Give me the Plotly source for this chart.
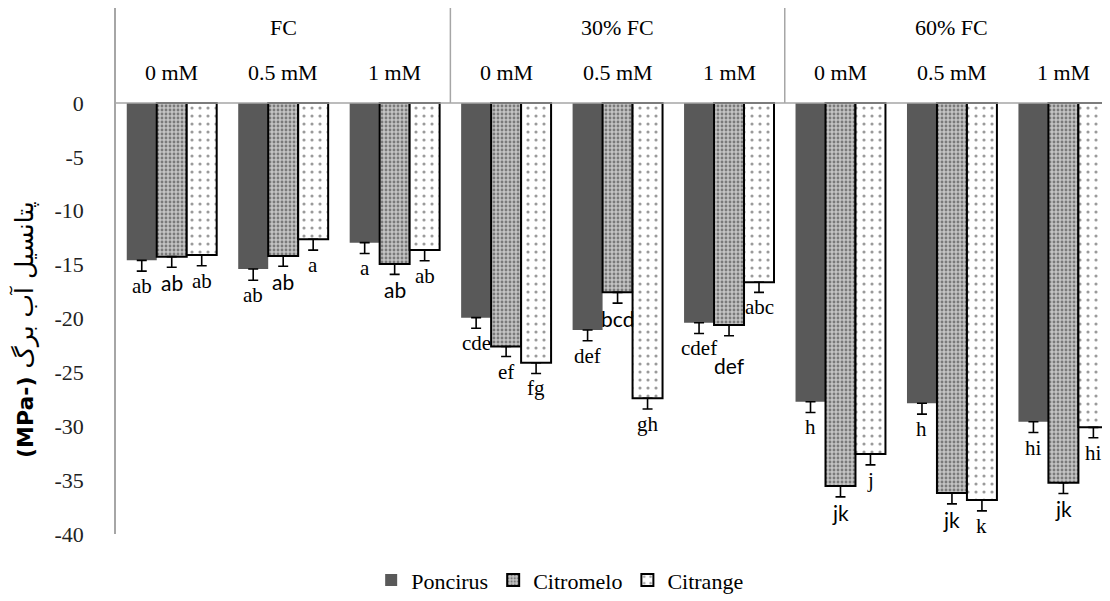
import plotly.graph_objects as go

# ---------------- data ----------------
categories = ["0 mM", "0.5 mM", "1 mM", "0 mM", "0.5 mM", "1 mM", "0 mM", "0.5 mM", "1 mM"]
groups = ["FC", "30% FC", "60% FC"]

poncirus = [-14.6, -15.4, -12.96, -19.92, -21.07, -20.39, -27.72, -27.87, -29.58]
citromelo = [-14.26, -14.2, -14.94, -22.6, -17.57, -20.6, -35.55, -36.2, -35.24]
citrange = [-14.1, -12.65, -13.64, -24.1, -27.4, -16.64, -32.58, -36.85, -30.1]

poncirus_err = [1.0, 1.05, 1.0, 0.99, 1.0, 1.0, 1.0, 1.0, 1.0]
citromelo_err = [0.98, 0.95, 0.96, 0.93, 1.0, 1.0, 1.0, 1.0, 1.0]
citrange_err = [1.0, 1.0, 1.0, 1.0, 1.0, 0.93, 1.0, 1.0, 0.97]

poncirus_lbl = ["ab", "ab", "a", "cde", "def", "cdef", "h", "h", "hi"]
citromelo_lbl = ["ab", "ab", "ab", "ef", "bcd", "def", "jk", "jk", "jk"]
citrange_lbl = ["ab", "a", "ab", "fg", "gh", "abc", "j", "k", "hi"]

yticks = [0, -5, -10, -15, -20, -25, -30, -35, -40]

# ---------------- styling ----------------
SERIF = "Liberation Serif"
SANS = "Lato"
GRAY = "#a6a6a6"
xs = list(range(len(categories)))
BARGAP = 0.193
bw = (1 - BARGAP) / 3
YTOP = 8.82

fig = go.Figure()

series = [
    ("Poncirus", poncirus, poncirus_err,
     dict(color="#595959", line=dict(width=0))),
    ("Citromelo", citromelo, citromelo_err,
     dict(color="#a8a8a8", line=dict(color="black", width=2),
          pattern=dict(shape=".", fgcolor="#7a7a7a", bgcolor="#c4c4c4",
                       size=4, solidity=0.4, fillmode="replace"))),
    ("Citrange", citrange, citrange_err,
     dict(color="white", line=dict(color="black", width=2),
          pattern=dict(shape=".", fgcolor="#9a9a9a", bgcolor="white",
                       size=8, solidity=0.12, fillmode="replace"))),
]

for name, vals, err, marker in series:
    fig.add_trace(go.Bar(
        name=name, x=xs, y=vals, marker=marker,
        error_y=dict(type="data", symmetric=False,
                     array=[0] * len(vals), arrayminus=err,
                     color="black", thickness=1.6, width=5),
    ))

# significance letters
label_sets = [(poncirus, poncirus_err, poncirus_lbl, -bw),
              (citromelo, citromelo_err, citromelo_lbl, 0.0),
              (citrange, citrange_err, citrange_lbl, bw)]
extra_shift = {(1, 5): -14}
for si, (vals, err, lbls, off) in enumerate(label_sets):
    for i, (v, e, t) in enumerate(zip(vals, err, lbls)):
        fam = SANS if (si == 1 and t != "ef") else SERIF
        fig.add_annotation(x=i + off, y=v - e, text=t, showarrow=False,
                           yanchor="top", yshift=-1 + extra_shift.get((si, i), 0),
                           font=dict(family=fam, size=21, color="black"))

# header: sub-category labels and group labels
for i, c in enumerate(categories):
    fig.add_annotation(x=i, y=2.88, text=c, showarrow=False, yanchor="middle",
                       font=dict(family=SERIF, size=22, color="black"))
for g, name in enumerate(groups):
    fig.add_annotation(x=3 * g + 1, y=7.05, text=name, showarrow=False, yanchor="middle",
                       font=dict(family=SERIF, size=22, color="black"))

# zero line and header separators
fig.add_shape(type="line", xref="paper", x0=0, x1=1, yref="y", y0=0, y1=0,
              line=dict(color=GRAY, width=1.5))
for xsep in [2.5, 5.5]:
    fig.add_shape(type="line", xref="x", x0=xsep, x1=xsep, yref="y", y0=0, y1=YTOP,
                  line=dict(color=GRAY, width=1.5))

fig.update_layout(
    width=1110, height=601,
    margin=dict(l=108, r=0, t=0, b=75),
    plot_bgcolor="white", paper_bgcolor="white",
    barmode="group", bargap=BARGAP, bargroupgap=0,
    showlegend=True,
    legend=dict(orientation="h", xref="container", yref="container",
                x=0.497, xanchor="center", y=0.048, yanchor="middle",
                font=dict(family=SERIF, size=22, color="black"),
                itemwidth=30, traceorder="normal"),
    xaxis=dict(range=[-0.5, -0.5 + 1002 / 111.46], showticklabels=False, showgrid=False,
               zeroline=False, showline=False, ticks=""),
    yaxis=dict(range=[-40, YTOP], tickvals=yticks, ticktext=[str(t) for t in yticks],
               showgrid=False, zeroline=False, showline=True, linecolor=GRAY,
               linewidth=1.5, ticks="", ticklabelstandoff=26,
               tickfont=dict(family=SERIF, size=22, color="#222222")),
)

# y-axis title (rotated, RTL Persian)
fig.add_annotation(xref="paper", yref="paper", x=0.0, xshift=-92,
                   y=(526 - 322) / 526, yanchor="middle", xanchor="center",
                   text="<span style='font-size:22px'><b>(MPa-)</b></span> پتانسیل آب برگ",
                   textangle=-90, showarrow=False,
                   font=dict(family="DejaVu Sans", size=25, color="black"))

fig.write_html("out.html")
